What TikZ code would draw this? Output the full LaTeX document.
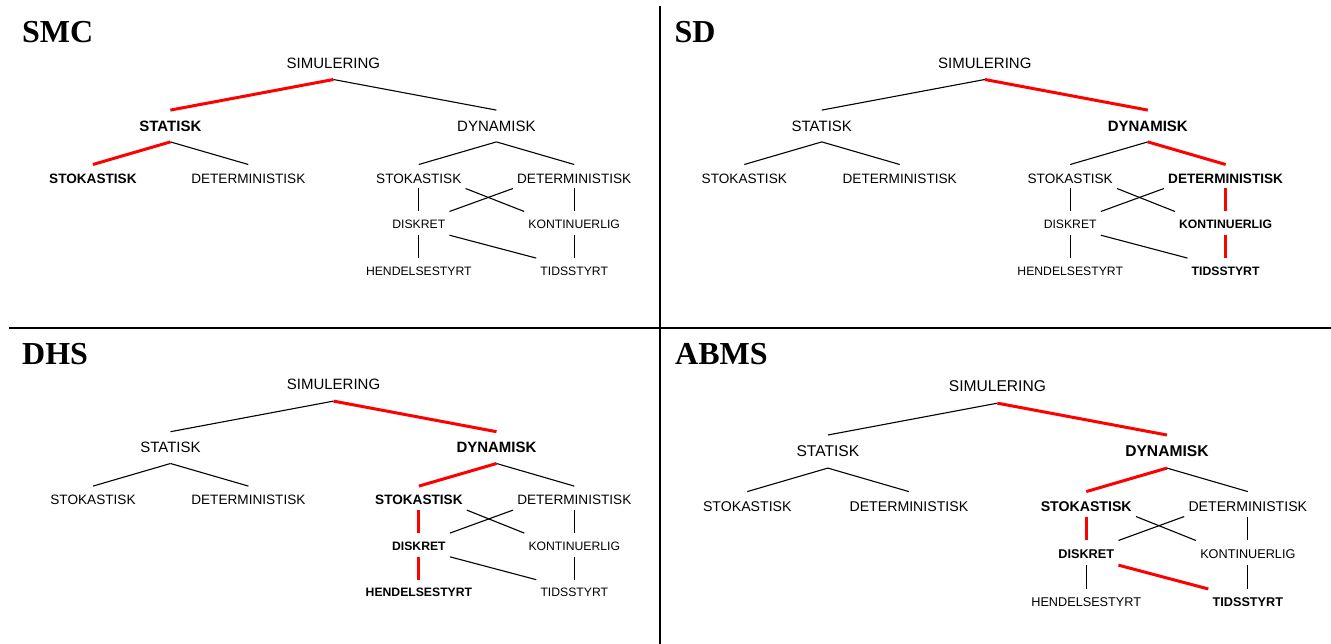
\documentclass[tikz,border=0pt]{standalone}
\usepackage{fontspec}
\setmainfont{Liberation Sans}
\newfontfamily\titlefont{Liberation Serif}
\definecolor{pathred}{RGB}{255,0,0}

% One classification tree, drawn around SIMULERING at the scope origin.
% Highlighted nodes and branches are switched on per scope through the
% n.../e... styles.
\newcommand\simtree{%
  \node[root] (sim) at (0,5.4) {SIMULERING};
  \node[mid, nStat] (stat) at (-163,68.4) {STATISK};
  \node[mid, nDyn] (dyn) at (163,68.4) {DYNAMISK};
  \node[low, nStokA] (stokA) at (-240.5,120.5) {STOKASTISK};
  \node[low] (detA) at (-85.1,120.5) {DETERMINISTISK};
  \node[low, nStokB] (stokB) at (85.4,120.5) {STOKASTISK};
  \node[low, nDetB] (detB) at (240.8,120.5) {DETERMINISTISK};
  \node[leafA, nDisk] (disk) at (85.4,166) {DISKRET};
  \node[leafA, nKont] (kont) at (240.8,166) {KONTINUERLIG};
  \node[leafB, nHend] (hend) at (85.4,212.4) {HENDELSESTYRT};
  \node[leafB, nTids] (tids) at (240.8,212.4) {TIDSSTYRT};
  \draw[conn, eSimStat] (sim.south) -- (stat.north);
  \draw[conn, eSimDyn] (sim.south) -- (dyn.north);
  \draw[conn, eStatStok] (stat.south) -- (stokA.north);
  \draw[conn] (stat.south) -- (detA.north);
  \draw[conn, eDynStok] (dyn.south) -- (stokB.north);
  \draw[conn, eDynDet] (dyn.south) -- (detB.north);
  \draw[conn, eStokDisk] (stokB.south) -- (disk.north);
  \draw[conn] (stokB.south east) -- (kont.north west);
  \draw[conn] (detB.south west) -- (disk.north east);
  \draw[conn, eDetKont] (detB.south) -- (kont.north);
  \draw[conn, eDiskHend] (disk.south) -- (hend.north);
  \draw[conn, eDiskTids] (disk.south east) -- (tids.north west);
  \draw[conn, eKontTids] (kont.south) -- (tids.north);
}

\begin{document}
\begin{tikzpicture}[x=1pt, y=-1pt,
  every node/.style={inner sep=0pt, anchor=base},
  root/.style={font=\fontsize{15}{15}\selectfont, text height=11pt, text depth=11.2pt},
  mid/.style={font=\fontsize{15}{15}\selectfont, text height=20.8pt, text depth=10.6pt},
  low/.style={font=\fontsize{13.6}{13.6}\selectfont, text height=18.5pt, text depth=5.1pt, inner xsep=4pt},
  leafA/.style={font=\fontsize{12.2}{12.2}\selectfont, text height=17pt, text depth=6.3pt, inner xsep=4pt},
  leafB/.style={font=\fontsize{12.2}{12.2}\selectfont, text height=16.8pt, text depth=2pt, inner xsep=4pt},
  title/.style={anchor=base west, font={\titlefont\fontsize{32}{32}\selectfont\bfseries}},
  conn/.style={draw=black, line width=1.1pt},
  hl/.style={draw=pathred, line width=3pt},
  hlnode/.style={execute at begin node=\bfseries},
  divider/.style={line width=2pt},
  nStat/.style={}, nDyn/.style={}, nStokA/.style={}, nStokB/.style={},
  nDetB/.style={}, nDisk/.style={}, nKont/.style={}, nHend/.style={}, nTids/.style={},
  eSimStat/.style={}, eSimDyn/.style={}, eStatStok/.style={}, eDynStok/.style={},
  eDynDet/.style={}, eStokDisk/.style={}, eDetKont/.style={}, eDiskHend/.style={},
  eDiskTids/.style={}, eKontTids/.style={}]
\useasboundingbox (0,0) rectangle (1331,644);

% quadrant dividers
\coordinate (vtop) at (660.3,5.7);
\coordinate (vbot) at (660.3,644);
\coordinate (hleft) at (9,327.7);
\coordinate (hright) at (1331,327.7);
\draw[divider] (vtop) -- (vbot);
\draw[divider] (hleft) -- (hright);

% titles
\node[title] (tSMC) at (22,42.7) {SMC};
\node[title] (tSD) at (674.5,42.7) {SD};
\node[title] (tDHS) at (22,364) {DHS};
\node[title] (tABMS) at (675,364.3) {ABMS};

% SMC: statisk, stokastisk
\begin{scope}[shift={(333.4,62.7)}, name prefix=smc-,
    nStat/.style={hlnode}, nStokA/.style={hlnode},
    eSimStat/.style={hl}, eStatStok/.style={hl}]
  \simtree
\end{scope}

% SD: dynamisk, deterministisk, kontinuerlig, tidsstyrt
\begin{scope}[shift={(984.8,62.7)}, name prefix=sd-,
    nDyn/.style={hlnode}, nDetB/.style={hlnode}, nKont/.style={hlnode}, nTids/.style={hlnode},
    eSimDyn/.style={hl}, eDynDet/.style={hl}, eDetKont/.style={hl}, eKontTids/.style={hl}]
  \simtree
\end{scope}

% DHS: dynamisk, stokastisk, diskret, hendelsesstyrt
\begin{scope}[shift={(333.5,384.3)}, name prefix=dhs-,
    nDyn/.style={hlnode}, nStokB/.style={hlnode}, nDisk/.style={hlnode}, nHend/.style={hlnode},
    eSimDyn/.style={hl}, eDynStok/.style={hl}, eStokDisk/.style={hl}, eDiskHend/.style={hl}]
  \simtree
\end{scope}

% ABMS: dynamisk, stokastisk, diskret, tidsstyrt
\begin{scope}[shift={(997.4,385.7)}, scale=1.04, transform shape, name prefix=abms-,
    nDyn/.style={hlnode}, nStokB/.style={hlnode}, nDisk/.style={hlnode}, nTids/.style={hlnode},
    eSimDyn/.style={hl}, eDynStok/.style={hl}, eStokDisk/.style={hl}, eDiskTids/.style={hl}]
  \simtree
\end{scope}
\end{tikzpicture}
\end{document}
